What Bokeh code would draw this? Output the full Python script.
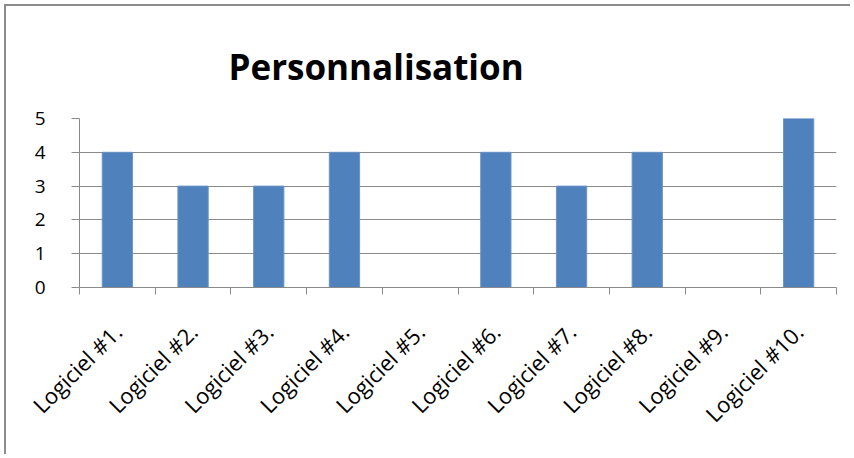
from bokeh.plotting import figure
from bokeh.models import FixedTicker, LinearAxis, Range1d
from bokeh.embed import file_html
from bokeh.resources import INLINE
import math

categories = ["Logiciel #1.", "Logiciel #2.", "Logiciel #3.", "Logiciel #4.", "Logiciel #5.",
              "Logiciel #6.", "Logiciel #7.", "Logiciel #8.", "Logiciel #9.", "Logiciel #10."]
values = [4, 3, 3, 4, 0, 4, 3, 4, 0, 5]
y_ticks = [0, 1, 2, 3, 4, 5]
title_text = "Personnalisation"

FONT = "Open Sans"
GRID = "#8a8a8a"

n = len(categories)
centers = [i + 0.5 for i in range(n)]

p = figure(width=846, height=450, output_backend="svg", toolbar_location=None,
           x_range=Range1d(0, n), y_range=Range1d(0, 5),
           min_border_left=73, min_border_right=16, min_border_top=112, min_border_bottom=169,
           x_axis_location=None, y_axis_location=None)
p.outline_line_color = None
p.background_fill_color = "white"
p.border_fill_color = "white"

p.title.text = title_text
p.title.text_font = FONT
p.title.text_font_style = "bold"
p.title.text_font_size = "35px"
p.title.text_color = "#000000"
p.title.align = "left"
p.title.offset = 149
p.title.standoff = 57

p.vbar(x=centers, top=values, width=0.4, fill_color="#4F81BD", line_color="#6a95c9", line_width=1)

# y axis
ya = LinearAxis(ticker=FixedTicker(ticks=y_ticks))
ya.axis_line_color = GRID
ya.major_tick_line_color = GRID
ya.major_tick_out = 8
ya.major_tick_in = 0
ya.minor_tick_line_color = None
ya.major_label_text_font = FONT
ya.major_label_text_font_size = "19px"
ya.major_label_text_color = "#000000"
ya.major_label_standoff = 26
p.add_layout(ya, "left")

# x axis: ticks at boundaries
xa = LinearAxis(ticker=FixedTicker(ticks=list(range(n + 1))))
xa.axis_line_color = GRID
xa.major_tick_line_color = GRID
xa.major_tick_out = 7
xa.major_tick_in = 0
xa.minor_tick_line_color = None
xa.major_label_text_font_size = "0px"
xa.major_label_text_color = None
p.add_layout(xa, "below")

# labels axis at centers
xl = LinearAxis(ticker=FixedTicker(ticks=centers))
xl.axis_line_color = None
xl.major_tick_line_color = None
xl.minor_tick_line_color = None
xl.major_label_overrides = {c: lab for c, lab in zip(centers, categories)}
xl.major_label_orientation = math.pi / 4
xl.major_label_text_font = FONT
xl.major_label_text_font_size = "22px"
xl.major_label_text_color = "#000000"
xl.major_label_standoff = 27
p.add_layout(xl, "below")

p.ygrid.grid_line_color = GRID
p.xgrid.grid_line_color = None
p.ygrid.ticker = FixedTicker(ticks=y_ticks)

p.styles = {"border-left": "2px solid #8c8c8c", "border-top": "2px solid #8c8c8c",
            "margin-left": "4px", "margin-top": "4px"}

open("out.html", "w").write(file_html(p, INLINE))
